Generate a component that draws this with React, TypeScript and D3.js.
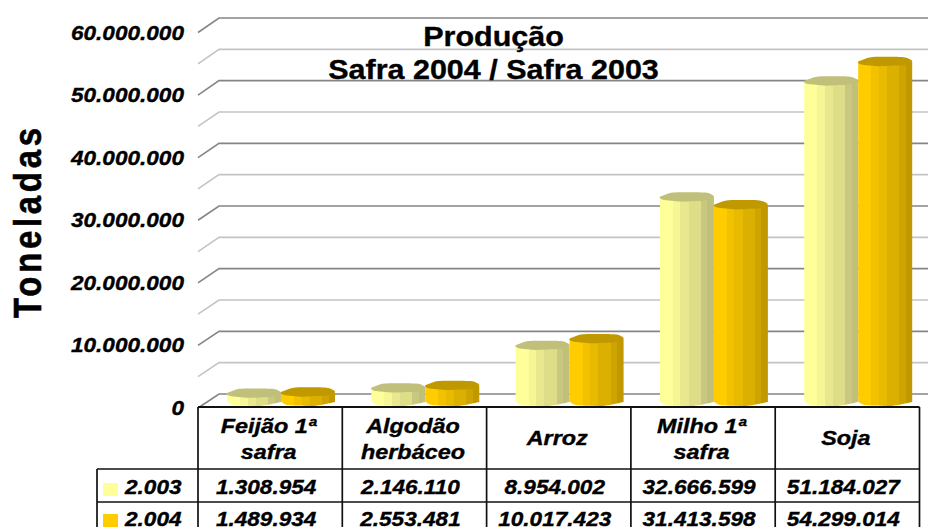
import { useEffect, useRef } from "react";
import * as d3 from "d3";

const categories = ["Feijão 1ª safra", "Algodão herbáceo", "Arroz", "Milho 1ª safra", "Soja"];
const categoryLines = [["Feijão 1ª", "safra"], ["Algodão", "herbáceo"], ["Arroz"], ["Milho 1ª", "safra"], ["Soja"]];
const values2003 = [1308954, 2146110, 8954002, 32666599, 51184027];
const values2004 = [1489934, 2553481, 10017423, 31413598, 54299014];
const seriesNames = ["2.003", "2.004"];
const majorTicks = [0, 10000000, 20000000, 30000000, 40000000, 50000000, 60000000];
const minorTicks = [5000000, 15000000, 25000000, 35000000, 45000000, 55000000];
const titleLines = ["Produção", "Safra 2004 / Safra 2003"];

const stripes2003 = ["#ffff99", "#f6f696", "#e8e88e", "#dede88", "#c8c880", "#c0c07a"];
const stripes2004 = ["#ffcc00", "#f2c200", "#e8ba00", "#dcb000", "#cda400", "#c09900"];
const topColors = ["#c0c07a", "#c09900"];
const swatchColors = ["#ffff99", "#ffcc00"];
const stripeEnds = [0.24, 0.38, 0.53, 0.76, 0.88, 1];

// top of a bar, low poly like the old Excel cylinders
const topShape: [number, number][] = [[0, 0], [0.24, -1], [0.84, -1], [1, -0.2], [0.88, 0.7], [0.4, 1], [0.06, 0.6]];
const bottomShape: [number, number][] = [[0, 0], [0.12, 0.8], [0.6, 1], [1, 0.1]];

export default function App() {
  const ref = useRef<SVGSVGElement>(null);

  useEffect(() => {
    if (!ref.current) return;

    const svg = d3.select(ref.current);
    svg.selectAll("*").remove();

    const width = 928;
    const depthX = 21;
    const tableLeft = 198;
    const tableRight = 919.5;
    const legendLeft = 97;
    const ry = 4.5;

    const fmt = d3.formatLocale({ decimal: ",", thousands: ".", grouping: [3], currency: ["", ""] }).format(",");

    const yFront = d3.scaleLinear().domain([0, 60000000]).range([408, 32.5]);
    const yBack = d3.scaleLinear().domain([0, 60000000]).range([394, 18]);
    const yBar = d3.scaleLinear().domain([0, 60000000]).range([401.5, 26]);

    const x0 = d3.scaleBand<string>().domain(categories).range([tableLeft, tableRight]);
    const x1 = d3.scaleBand<string>().domain(["0", "1"]).range([29, 137]);

    const text = (str: string, x: number, y: number, size: number, anchor: string, italic = true, sx = 1.13) =>
      svg
        .append("text")
        .attr("transform", `translate(${x},${y}) scale(${sx},1)`)
        .attr("text-anchor", anchor)
        .style("font-family", "'Liberation Sans', Arial, sans-serif")
        .style("font-size", `${size}px`)
        .style("font-weight", "bold")
        .style("font-style", italic ? "italic" : "normal")
        .style("fill", "#000")
        .style("stroke", "#000")
        .style("stroke-width", "0.35px")
        .text(str);

    // gridlines
    const grid = (ticks: number[], color: string) => {
      ticks.forEach((t) => {
        svg
          .append("path")
          .attr("d", `M${tableLeft},${yFront(t)}L${tableLeft + depthX},${yBack(t)}L${width},${yBack(t)}`)
          .attr("fill", "none")
          .attr("stroke", color)
          .attr("stroke-width", 1.6);
      });
    };
    grid(minorTicks, "#c4c4c4");
    grid(majorTicks, "#858585");

    majorTicks.forEach((t) => {
      text(t === 0 ? "0" : fmt(t), 184, yFront(t) + 7, 20, "end");
    });

    svg
      .append("text")
      .attr("transform", "translate(41,318) rotate(-90) scale(1,1.2)")
      .attr("textLength", 190)
      .attr("lengthAdjust", "spacing")
      .style("font-family", "'Liberation Sans', Arial, sans-serif")
      .style("font-size", "33px")
      .style("font-weight", "bold")
      .style("stroke", "#000")
      .style("stroke-width", "0.5px")
      .text("Toneladas");

    text(titleLines[0], 493.5, 46, 27, "middle", false);
    text(titleLines[1], 493.5, 79, 27, "middle", false);

    // gradients with hard stops for the facets
    const defs = svg.append("defs");
    [stripes2003, stripes2004].forEach((stripes, s) => {
      const grad = defs.append("linearGradient").attr("id", `facets${s}`);
      stripes.forEach((c, i) => {
        grad.append("stop").attr("offset", i === 0 ? 0 : stripeEnds[i - 1]).attr("stop-color", c);
        grad.append("stop").attr("offset", stripeEnds[i]).attr("stop-color", c);
      });
    });

    const closed = d3.line().curve(d3.curveCardinalClosed.tension(0.4));
    const open = d3.line().curve(d3.curveCardinal.tension(0.4));

    // bars
    [values2003, values2004].forEach((values, s) => {
      values.forEach((v, i) => {
        const left = x0(categories[i])! + x1(String(s))!;
        const w = x1.bandwidth();
        const top = yBar(v);
        const base = yBar(0);
        const bottom = open(bottomShape.map(([a, b]) => [left + a * w, base + b * ry] as [number, number]))!;
        svg
          .append("path")
          .attr("d", `M${left},${top}L${left},${base}${bottom.replace(/^M[^CL]*/, "")}L${left + w},${top}Z`)
          .attr("fill", `url(#facets${s})`);
        svg
          .append("path")
          .attr("d", closed(topShape.map(([a, b]) => [left + a * w, top + b * ry] as [number, number]))!)
          .attr("fill", topColors[s]);
      });
    });

    // data table
    const rowTop = 407;
    const rowHead = 469;
    const rowOne = 502;
    const rowEnd = 540;
    const rule = (a: number, b: number, c: number, d: number, sw: number) =>
      svg.append("line").attr("x1", a).attr("y1", b).attr("x2", c).attr("y2", d).attr("stroke", "#111").attr("stroke-width", sw);

    rule(tableLeft, rowTop, tableRight, rowTop, 2.2);
    rule(legendLeft, rowHead, tableRight, rowHead, 1.7);
    rule(legendLeft, rowOne, tableRight, rowOne, 1.7);
    rule(legendLeft, rowHead, legendLeft, rowEnd, 1.7);
    x0.domain().forEach((c) => rule(x0(c)!, rowTop, x0(c)!, rowEnd, 1.7));
    rule(tableRight, rowTop, tableRight, rowEnd, 1.7);

    categories.forEach((c, i) => {
      const cx = x0(c)! + x0.bandwidth() / 2;
      const lines = categoryLines[i];
      lines.forEach((line, j) => {
        text(line, cx - 1.5, lines.length === 1 ? 445 : 433 + j * 26, 20, "middle", true, 1.17);
      });
      text(fmt(values2003[i]), cx - 4, 494, 20, "middle");
      text(fmt(values2004[i]), cx - 4, 526, 20, "middle");
    });

    seriesNames.forEach((name, s) => {
      const baseline = s === 0 ? 494 : 526;
      svg.append("rect").attr("x", 103).attr("y", s === 0 ? 483 : 514).attr("width", 15).attr("height", 13).attr("fill", swatchColors[s]);
      text(name, 125, baseline, 20, "start");
    });
  }, []);

  return <svg ref={ref} width={928} height={527} style={{ position: "absolute", left: 0, top: 0, display: "block", background: "#fff" }} />;
}
